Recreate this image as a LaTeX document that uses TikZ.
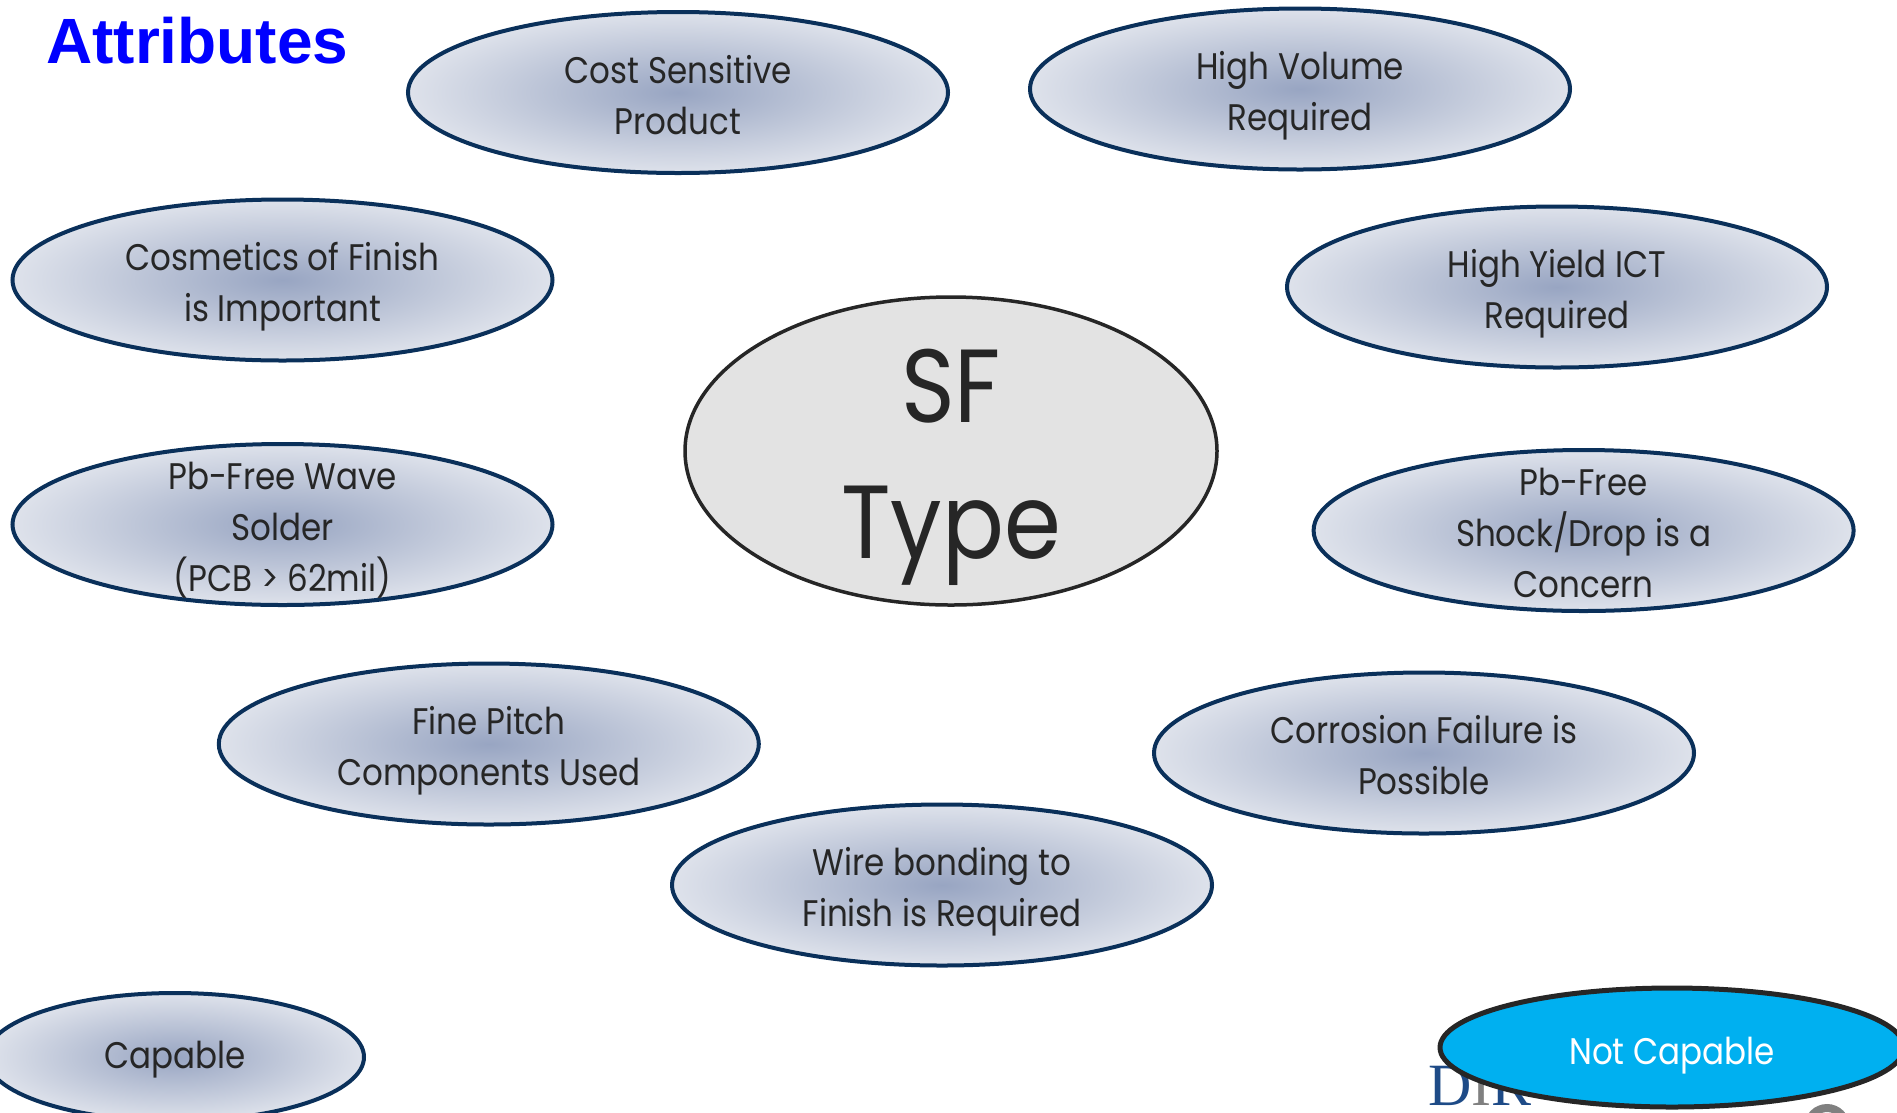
\documentclass[tikz,border=0pt]{standalone}
\usepackage{fontspec}
\setmainfont{Poppins}[FakeStretch=0.88]
\newfontfamily\titlefont{Liberation Sans}
\newfontfamily\logofont{Liberation Serif}
\usetikzlibrary{shapes.geometric}
\definecolor{navy}{RGB}{10,48,90}
\definecolor{gin}{RGB}{152,165,194}
\definecolor{gout}{RGB}{222,226,235}
\definecolor{txt}{RGB}{38,38,38}
\definecolor{cyanfill}{RGB}{0,176,240}
\definecolor{sfgrey}{RGB}{227,227,227}
\definecolor{sfborder}{RGB}{38,38,38}
\definecolor{titleblue}{RGB}{0,0,255}
\definecolor{logoblue}{RGB}{30,75,135}
\definecolor{logogray}{RGB}{128,128,128}
\tikzset{
  attr/.style={ellipse, draw=navy, line width=4pt, inner color=gin, outer color=gout,
    minimum width=540pt, minimum height=161pt, inner sep=0pt},
  lbl/.style={text=txt, align=center, font=\fontsize{37}{51}\selectfont, inner sep=0pt,
    execute at begin node=\strut, execute at end node=\strut, yshift=-10pt},
}
\begin{document}
\begin{tikzpicture}[x=1pt,y=-1pt]
\useasboundingbox (0,0) rectangle (1897,1112);
\clip (0,0) rectangle (1897,1112);
% title
\node[anchor=base west, inner sep=0pt, text=titleblue,
  font=\titlefont\bfseries\fontsize{64}{64}\selectfont] (title) at (46,63) {Attributes};
% logo fragment behind the Not Capable ellipse
\node[anchor=base west, inner sep=0pt, font=\logofont\fontsize{60}{60}\selectfont] (logo) at (1428,1105)
  {\textcolor{logoblue}{D}\textcolor{logogray}{I}\textcolor{logoblue}{R}};
\draw[logogray, line width=8pt] (1827,1127) circle (19pt);
% attribute ellipses
\node[attr] (e1) at (678,92.5) {};
\node[lbl] (t1) at (e1.center) {Cost Sensitive\\Product};
\node[attr] (e2) at (1300,89) {};
\node[lbl] (t2) at (e2.center) {High Volume\\Required};
\node[attr] (e3) at (282.5,280) {};
\node[lbl] (t3) at (e3.center) {Cosmetics of Finish\\is Important};
\node[attr] (e4) at (1557,287) {};
\node[lbl] (t4) at (e4.center) {High Yield ICT\\Required};
\node[attr] (e6) at (282.5,524.5) {};
\node[lbl] (t6) at (e6.center) {Pb-Free Wave\\Solder\\(PCB > 62mil)};
\node[attr] (e7) at (1583.6,530.5) {};
\node[lbl] (t7) at (e7.center) {Pb-Free\\Shock/Drop is a\\Concern};
\node[attr] (e8) at (488.8,744) {};
\node[lbl] (t8) at (e8.center) {Fine Pitch\\Components Used};
\node[attr] (e9) at (1424,753) {};
\node[lbl] (t9) at (e9.center) {Corrosion Failure is\\Possible};
\node[attr] (e10) at (942,885) {};
\node[lbl] (t10) at (e10.center) {Wire bonding to\\Finish is Required};
% centre
\node[ellipse, draw=sfborder, line width=3.5pt, fill=sfgrey, minimum width=532pt,
  minimum height=308pt, inner sep=0pt] (sf) at (951,451) {};
\node[text=txt, align=center, inner sep=0pt, font=\fontsize{104}{136}\selectfont] (sft) at (951,467) {SF\\Type};
% legend
\node[attr, minimum width=378pt, minimum height=128pt] (cap) at (175,1057) {};
\node[lbl, yshift=9pt] (capt) at (cap.center) {Capable};
\node[ellipse, draw=sfborder, line width=5pt, fill=cyanfill, minimum width=464pt,
  minimum height=119pt, inner sep=0pt] (ncap) at (1672,1047.5) {};
\node[lbl, text=white, yshift=3pt] (ncapt) at (ncap.center) {Not Capable};
\end{tikzpicture}
\end{document}
